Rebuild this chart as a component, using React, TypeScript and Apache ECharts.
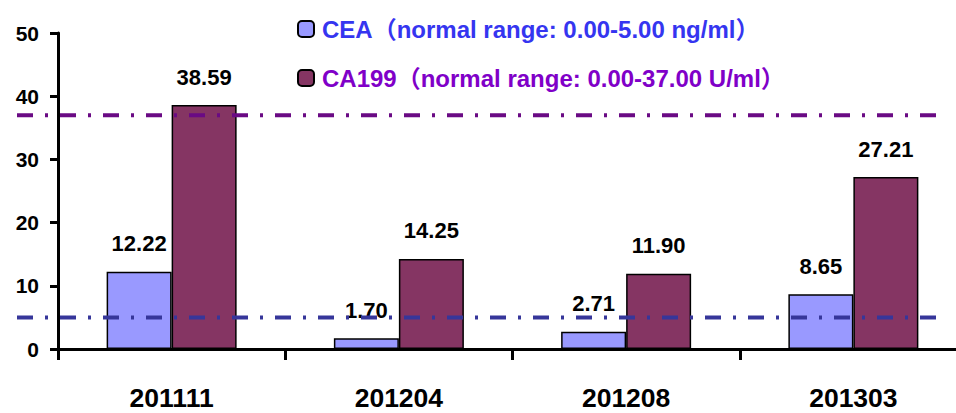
import React, { useEffect, useRef } from "react";
import * as echarts from "echarts";

const categories = ["201111", "201204", "201208", "201303"];
const ceaValues = [12.22, 1.7, 2.71, 8.65];
const ca199Values = [38.59, 14.25, 11.9, 27.21];
const seriesNames = [
  "CEA（normal range: 0.00-5.00 ng/ml）",
  "CA199（normal range: 0.00-37.00 U/ml）",
];
const upperLimits = [5, 37];

const FONT = 'Arial, "Liberation Sans", "Noto Sans CJK SC", sans-serif';
const barColors = ["#9999FF", "#853563"];
const legendColors = ["#3535F0", "#8000C8"];
const limitColors = ["#36369A", "#6A0A84"];

export default function App() {
  const ref = useRef<HTMLDivElement>(null);
  useEffect(() => {
    if (!ref.current) return;
    const chart = echarts.init(ref.current, undefined, { renderer: "svg" });
    const labelCfg = {
      show: true,
      position: "top",
      distance: 17,
      color: "#000",
      fontFamily: FONT,
      fontWeight: "bold",
      fontSize: 22,
      formatter: (p: any) => Number(p.value).toFixed(2),
    };
    chart.setOption({
      animation: false,
      backgroundColor: "#fff",
      grid: {
        left: 58,
        right: -11,
        top: 33,
        bottom: 64,
        containLabel: false,
        outerBoundsMode: "none",
      },
      legend: {
        orient: "vertical",
        left: 292,
        top: 12,
        itemWidth: 16,
        itemHeight: 16,
        itemGap: 25,
        selectedMode: false,
        data: seriesNames.map((n, i) => ({
          name: n,
          textStyle: { color: legendColors[i] },
        })),
        textStyle: {
          fontFamily: FONT,
          fontWeight: "bold",
          fontSize: 24,
          lineHeight: 24,
          padding: [0, 0, 0, 3],
        },
      },
      xAxis: {
        type: "category",
        data: categories,
        axisLine: { lineStyle: { color: "#000", width: 3 } },
        axisTick: { show: true, length: 11, lineStyle: { color: "#000", width: 3 } },
        axisLabel: {
          color: "#000",
          fontFamily: FONT,
          fontWeight: "bold",
          fontSize: 26.5,
          margin: 36,
        },
      },
      yAxis: {
        type: "value",
        min: 0,
        max: 50,
        interval: 10,
        splitLine: { show: false },
        axisLine: { show: true, lineStyle: { color: "#000", width: 3 } },
        axisTick: { show: true, length: 8, lineStyle: { color: "#000", width: 3 } },
        axisLabel: {
          color: "#000",
          fontFamily: FONT,
          fontWeight: "bold",
          fontSize: 21,
          margin: 19,
        },
      },
      series: [
        {
          name: seriesNames[0],
          type: "bar",
          data: ceaValues,
          barWidth: 65,
          barGap: "0%",
          itemStyle: { color: barColors[0], borderColor: "#000", borderWidth: 1.5 },
          label: labelCfg,
        },
        {
          name: seriesNames[1],
          type: "bar",
          data: ca199Values,
          barWidth: 65,
          barGap: "0%",
          itemStyle: { color: barColors[1], borderColor: "#000", borderWidth: 1.5 },
          label: labelCfg,
        },
      ],
    });
    const lines = upperLimits.map((v, i) => {
      const y = chart.convertToPixel({ yAxisIndex: 0 }, v) as number;
      return {
        type: "line",
        z: 100,
        shape: { x1: 17, y1: y, x2: 943, y2: y },
        style: {
          stroke: limitColors[i],
          lineWidth: 4,
          lineDash: [16, 12, 3, 12],
        },
      };
    });
    chart.setOption({ graphic: lines });
    return () => chart.dispose();
  }, []);
  return (
    <div
      ref={ref}
      style={{ position: "fixed", left: 0, top: 0, width: 956, height: 413 }}
    />
  );
}
